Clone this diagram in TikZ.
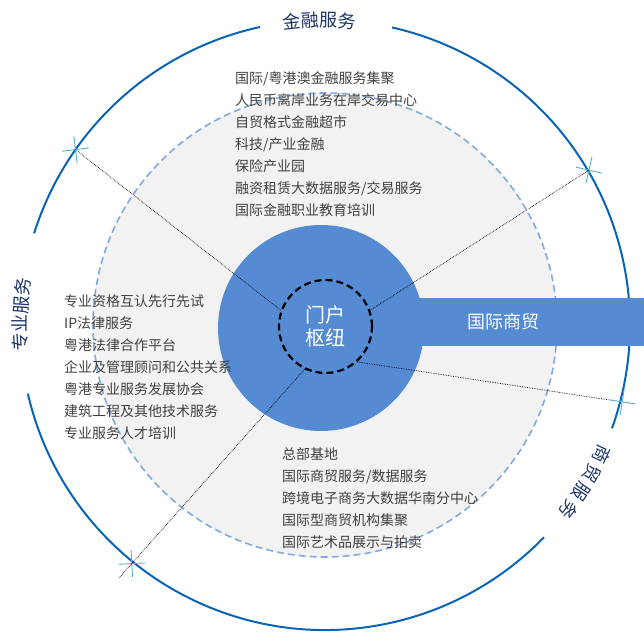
\documentclass[tikz,border=0pt]{standalone}
\usepackage{fontspec}
\usepackage{xcolor}
\usepackage{tikz}
\usetikzlibrary{shapes.misc, decorations.text}
\newfontfamily\hanfont{Noto Sans CJK SC}
\newcommand\titlefont{\hanfont\fontsize{18}{20}\selectfont\color{titlenavy}}

\definecolor{hubblue}{RGB}{84,139,211}
\definecolor{ringblue}{RGB}{8,100,182}
\definecolor{dashblue}{RGB}{128,170,224}
\definecolor{zonegray}{RGB}{242,242,242}
\definecolor{inkgray}{RGB}{64,64,64}
\definecolor{titlenavy}{RGB}{28,52,104}
\definecolor{markcyan}{RGB}{80,178,204}

\tikzset{
	ring/.style={ringblue, line width=2pt}, % the broken outer ring
	zone/.style={dashblue, line width=1.6pt, dash pattern=on 7pt off 4pt, fill=zonegray}, % grey service zone
	core/.style={circle, fill=hubblue, inner sep=0pt, minimum size=206pt}, % big blue disc
	hub/.style={circle, draw=black, line width=2.2pt, dash pattern=on 7pt off 4pt, minimum size=93pt, inner sep=0pt, text=white, align=center, font=\hanfont\fontsize{20}{23}\selectfont},
	tradebar/.style={rectangle, fill=hubblue, inner sep=0pt, minimum width=282pt, minimum height=48pt, text=white, font=\hanfont\fontsize{18}{20}\selectfont},
	items/.style={anchor=north west, inner sep=0pt, align=left, text=inkgray, font=\hanfont\fontsize{14}{22}\selectfont},
	xmark/.style={cross out, draw=markcyan, line width=0.9pt, minimum size=18pt, inner sep=0pt}, % marks on the ring
	link/.style={densely dotted, line width=0.7pt},
}

\begin{document}
\begin{tikzpicture}[x=1pt, y=1pt]
	\useasboundingbox (-325,-319) rectangle (319,325);

	% Outer ring
	\draw[ring] (102.3:305) arc[start angle=102.3, end angle=162.5, radius=305];
	\draw[ring] (193:305) arc[start angle=193, end angle=315.9, radius=305];
	\draw[ring] (-19.8:305) arc[start angle=-19.8, end angle=77.3, radius=305];

	% Titles along the ring
	\path[decorate, decoration={text along path, text align=center, text={|\titlefont|金融服务}}]
		(104:298) arc[start angle=104, end angle=78, radius=298];
	\path[decorate, decoration={text along path, text align=center, text={|\titlefont|专业服务}}]
		(193:298) arc[start angle=193, end angle=163, radius=298];
	\path[decorate, decoration={text along path, text align=center, text={|\titlefont\kern1.5pt|商|\titlefont\kern3pt|贸服务}}]
		(-14:299) arc[start angle=-14, end angle=-48, radius=299];

	% Zone, core and hub
	\draw[zone] (0,0) circle[radius=232];
	\node[core] (core) at (-4,-3) {};
	\node[tradebar] (trade) at (178,3) {国际商贸};
	\node[hub] (hub) at (0.5,-1.5) {门户\\枢纽};

	% Marks on the ring
	\node[xmark, rotate=142] (mnw) at (144.9:305) {};
	\node[xmark, rotate=32] (mne) at (30.4:306) {};
	\node[xmark, rotate=36] (mse) at (-14.5:307) {};
	\node[xmark, rotate=228] (msw) at (231:307) {};

	% Links
	\draw[link] (hub.160) -- (mnw.center);
	\draw[link] (hub.20.8) -- (mne.center);
	\draw[link, shorten >=14pt] (hub.-48.4) -- (mse.center);
	\draw[link, shorten >=-20pt] (hub.244) -- (msw.center);

	% Lists
	\node[items] (finlist) at (-90,254) {国际/粤港澳金融服务集聚\\人民币离岸业务在岸交易中心\\自贸格式金融超市\\科技/产业金融\\保险产业园\\融资租赁大数据服务/交易服务\\国际金融职业教育培训};
	\node[items] (prolist) at (-261,30) {专业资格互认先行先试\\IP法律服务\\粤港法律合作平台\\企业及管理顾问和公共关系\\粤港专业服务发展协会\\建筑工程及其他技术服务\\专业服务人才培训};
	\node[items] (bizlist) at (-43,-122) {总部基地\\国际商贸服务/数据服务\\跨境电子商务大数据华南分中心\\国际型商贸机构集聚\\国际艺术品展示与拍卖};
\end{tikzpicture}
\end{document}
